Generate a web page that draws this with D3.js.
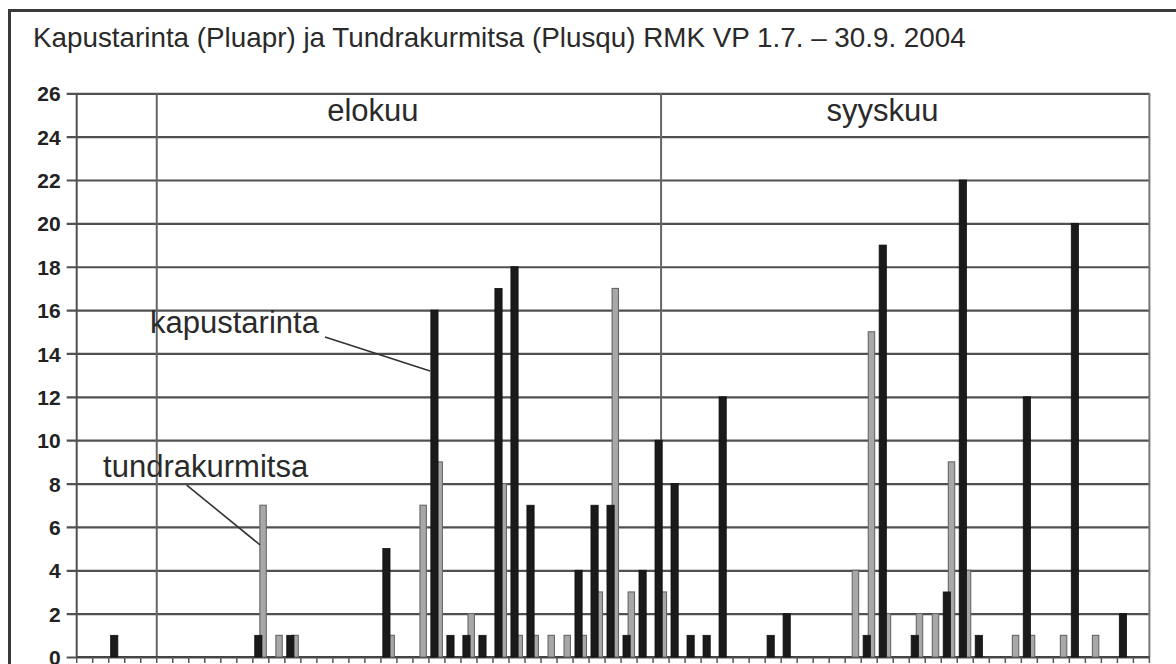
<!DOCTYPE html>
<html>
<head>
<meta charset="utf-8">
<script src="https://cdn.jsdelivr.net/npm/d3@7/dist/d3.min.js"></script>
<style>
  html, body { margin: 0; padding: 0; background: #ffffff; }
  svg { display: block; }
</style>
</head>
<body>
<svg id="chart" width="1176" height="664"></svg>
<script>
// ---------- DATA ----------
const titleText = "Kapustarinta (Pluapr) ja Tundrakurmitsa (Plusqu) RMK VP 1.7. – 30.9. 2004";

const categories = [
  "26.7.","27.7.","28.7.","29.7.","30.7.","31.7.",
  "1.8.","2.8.","3.8.","4.8.","5.8.","6.8.","7.8.","8.8.","9.8.","10.8.",
  "11.8.","12.8.","13.8.","14.8.","15.8.","16.8.","17.8.","18.8.","19.8.","20.8.",
  "21.8.","22.8.","23.8.","24.8.","25.8.","26.8.","27.8.","28.8.","29.8.","30.8.","31.8.",
  "1.9.","2.9.","3.9.","4.9.","5.9.","6.9.","7.9.","8.9.","9.9.","10.9.",
  "11.9.","12.9.","13.9.","14.9.","15.9.","16.9.","17.9.","18.9.","19.9.","20.9.",
  "21.9.","22.9.","23.9.","24.9.","25.9.","26.9.","27.9.","28.9.","29.9.","30.9."
];

// kapustarinta (Pluapr) – black bars
const kapustarinta = [
  0,0,1,0,0,0,0,0,0,0,
  0,1,0,1,0,0,0,0,0,5,
  0,0,16,1,1,1,17,18,7,0,
  0,4,7,7,1,4,10,8,1,1,
  12,0,0,1,2,0,0,0,0,1,
  19,0,1,0,3,22,1,0,0,12,
  0,0,20,0,0,2,0
];

// tundrakurmitsa (Plusqu) – grey bars
const tundrakurmitsa = [
  0,0,0,0,0,0,0,0,0,0,
  0,7,1,1,0,0,0,0,0,1,
  0,7,9,0,2,0,8,1,1,1,
  1,1,3,17,3,0,3,0,0,0,
  0,0,0,0,0,0,0,0,4,15,
  2,0,2,2,9,4,0,0,1,1,
  0,1,0,1,0,0,0
];

const yTicks = [0,2,4,6,8,10,12,14,16,18,20,22,24,26];
const monthNames = ["elokuu","syyskuu"];
const seriesNames = ["kapustarinta","tundrakurmitsa"];

// ---------- LAYOUT ----------
const svg = d3.select("#chart");
const plot = { left: 76.7, right: 1149.4, top: 93.3, bottom: 657 };

const x = d3.scaleBand().domain(categories)
  .range([plot.left, plot.right]).paddingInner(0).paddingOuter(0);
const bw = x.bandwidth();
// continuous index helper for annotations
const xi = d3.scaleLinear().domain([0, categories.length]).range([plot.left, plot.right]);
const y = d3.scaleLinear().domain([0, 26]).range([plot.bottom, plot.top]);

const gridCol = "#505050";

// outer frame
svg.append("rect")
  .attr("x", 9.5).attr("y", 10.5)
  .attr("width", 1300).attr("height", 800)
  .attr("fill", "none").attr("stroke", "#3a3a3a").attr("stroke-width", 3);

// title
svg.append("text")
  .attr("x", 33).attr("y", 47)
  .attr("font-family", "Liberation Sans, Arial, sans-serif")
  .attr("font-size", 27.8)
  .attr("fill", "#2a2a2a")
  .text(titleText);

// horizontal gridlines + y ticks
const yAxis = d3.axisLeft(y).tickValues(yTicks).tickSize(-(plot.right - plot.left)).tickPadding(8)
  .tickFormat(d3.format("d"));
const gy = svg.append("g").attr("transform", `translate(${plot.left},0)`).call(yAxis);
gy.select(".domain").remove();
gy.selectAll(".tick line")
  .attr("x1", -10)
  .attr("stroke", gridCol).attr("stroke-width", 2.2);
gy.selectAll(".tick text")
  .attr("x", -16)
  .attr("dy", "0.36em")
  .attr("font-family", "Liberation Sans, Arial, sans-serif")
  .attr("font-weight", "bold")
  .attr("font-size", 21)
  .attr("fill", "#222");

// left axis line and right border
svg.append("line").attr("x1", plot.left).attr("x2", plot.left)
  .attr("y1", plot.top).attr("y2", plot.bottom)
  .attr("stroke", gridCol).attr("stroke-width", 2);
svg.append("line").attr("x1", plot.right).attr("x2", plot.right)
  .attr("y1", plot.top).attr("y2", plot.bottom)
  .attr("stroke", "#777").attr("stroke-width", 2);

// month separator lines
const monthLines = [x(categories[5]), x(categories[36]) + bw / 2];
svg.selectAll(".mline").data(monthLines).enter().append("line")
  .attr("x1", d => d).attr("x2", d => d)
  .attr("y1", plot.top).attr("y2", plot.bottom)
  .attr("stroke", "#666").attr("stroke-width", 2);

// bottom axis with tick marks at category boundaries
svg.append("line").attr("x1", plot.left).attr("x2", plot.right)
  .attr("y1", plot.bottom).attr("y2", plot.bottom)
  .attr("stroke", "#444").attr("stroke-width", 2);
const boundaries = categories.map(c => x(c)).concat([plot.right]);
svg.selectAll(".xtick").data(boundaries).enter().append("line")
  .attr("x1", d => d).attr("x2", d => d)
  .attr("y1", plot.bottom).attr("y2", plot.bottom + 6)
  .attr("stroke", "#555").attr("stroke-width", 1.5);

// bars: tundrakurmitsa (grey) then kapustarinta (black)
svg.append("g").selectAll("rect")
  .data(categories.map((c, i) => ({ c, v: tundrakurmitsa[i] })).filter(d => d.v > 0))
  .enter().append("rect")
  .attr("x", d => x(d.c) + bw * 0.44)
  .attr("y", d => y(d.v))
  .attr("width", bw * 0.40)
  .attr("height", d => y(0) - y(d.v))
  .attr("fill", "#a8a8a8").attr("stroke", "#666").attr("stroke-width", 1.1);

svg.append("g").selectAll("rect")
  .data(categories.map((c, i) => ({ c, v: kapustarinta[i] })).filter(d => d.v > 0))
  .enter().append("rect")
  .attr("x", d => x(d.c) + bw * 0.12)
  .attr("y", d => y(d.v))
  .attr("width", bw * 0.45)
  .attr("height", d => y(0) - y(d.v))
  .attr("fill", "#1a1a1a").attr("stroke", "#111").attr("stroke-width", 0.8);

// month labels
const labelFont = "Liberation Sans, Arial, sans-serif";
svg.append("text").attr("x", xi(18.5)).attr("y", y(24.7))
  .attr("text-anchor", "middle").attr("font-family", labelFont).attr("font-size", 31)
  .attr("fill", "#2a2a2a").text(monthNames[0]);
svg.append("text").attr("x", xi(50.33)).attr("y", y(24.7))
  .attr("text-anchor", "middle").attr("font-family", labelFont).attr("font-size", 31)
  .attr("fill", "#2a2a2a").text(monthNames[1]);

// annotations
svg.append("text").attr("x", xi(4.58)).attr("y", y(14.95))
  .attr("font-family", labelFont).attr("font-size", 31).attr("fill", "#2a2a2a")
  .text(seriesNames[0]);
svg.append("line")
  .attr("x1", xi(15.51)).attr("y1", y(14.76))
  .attr("x2", xi(22.07)).attr("y2", y(13.19))
  .attr("stroke", "#333").attr("stroke-width", 1.6);

svg.append("text").attr("x", xi(1.65)).attr("y", y(8.3))
  .attr("font-family", labelFont).attr("font-size", 31).attr("fill", "#2a2a2a")
  .text(seriesNames[1]);
svg.append("line")
  .attr("x1", xi(6.87)).attr("y1", y(7.93))
  .attr("x2", xi(11.45)).attr("y2", y(5.17))
  .attr("stroke", "#333").attr("stroke-width", 1.6);
</script>
</body>
</html>
